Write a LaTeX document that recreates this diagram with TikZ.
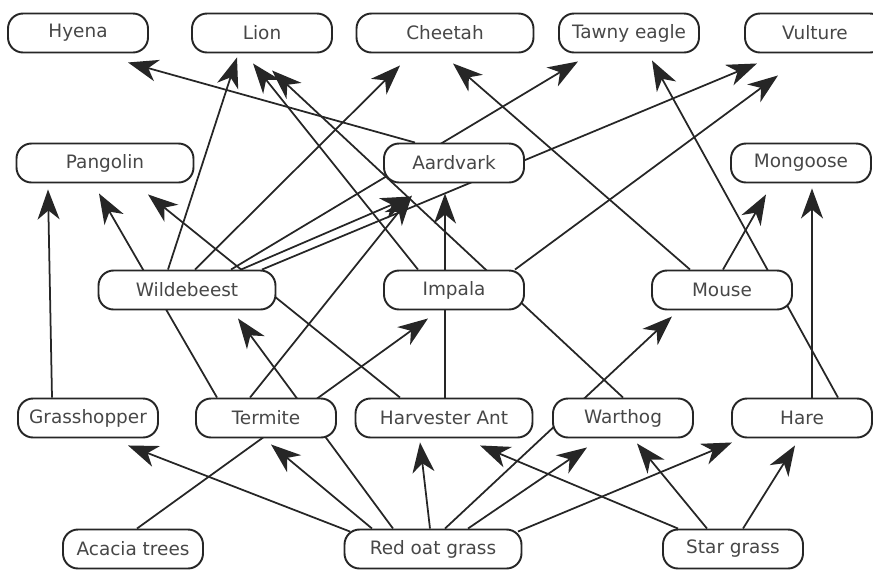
\documentclass[tikz,border=0pt]{standalone}
\usepackage{fontspec}
\setmainfont{DejaVu Sans}
\usetikzlibrary{arrows.meta,calc,backgrounds}

\begin{document}
\begin{tikzpicture}[x=0.02cm, y=-0.02cm,
        kasten/.style={draw=black!85, line width=1.1pt, fill=white, rounded corners=0.3cm,
            minimum height=0.78cm, minimum width=2.8cm, inner sep=0pt,
            text=black!72, font=\fontsize{10.5}{12}\selectfont},
        breit/.style={kasten, minimum width=3.54cm},
        pfeil/.style={line width=1pt, black!85, -{Stealth[length=6mm, width=4.4mm, inset=1.8mm]}}]
    % Bildgroesse
        \useasboundingbox (0,0) rectangle (873,569);

    % Raubtiere
        \node[kasten] (hyena) at (78,33) {Hyena};
        \node[kasten] (lion) at (262,33) {Lion};
        \node[breit] (cheetah) at (445,33) {Cheetah};
        \node[kasten] (tawny) at (629,33) {Tawny eagle};
        \node[kasten] (vulture) at (815,33) {Vulture};

    % 2. Ebene
        \node[breit] (pangolin) at (105,163) {Pangolin};
        \node[kasten] (aardvark) at (454,163) {Aardvark};
        \node[kasten] (mongoose) at (801,163) {Mongoose};

    % 3. Ebene
        \node[breit] (wildebeest) at (187,290) {Wildebeest};
        \node[kasten] (impala) at (454,290) {Impala};
        \node[kasten] (mouse) at (722,290) {Mouse};

    % 4. Ebene
        \node[kasten] (grasshopper) at (88,418) {Grasshopper};
        \node[kasten] (termite) at (266,418) {Termite};
        \node[breit] (harvester) at (444,418) {Harvester Ant};
        \node[kasten] (warthog) at (623,418) {Warthog};
        \node[kasten] (hare) at (802,418) {Hare};

    % Pflanzen
        \node[kasten] (acacia) at (133,549) {Acacia trees};
        \node[breit] (redoat) at (433,549) {Red oat grass};
        \node[kasten] (stargrass) at (733,549) {Star grass};

    % Verbindungen
    \begin{scope}[on background layer]
        \draw[pfeil] ($(aardvark.north)+(-39,0)$) -- ($(hyena.south)+(50,9)$);
        \draw[pfeil] ($(wildebeest.north)+(-19,0)$) -- ($(lion.south)+(-25,4)$);
        \draw[pfeil] ($(impala.north)+(-36,0)$) -- ($(lion.south)+(-9,10)$);
        \draw[pfeil] ($(warthog.north)+(0,0)$) -- ($(lion.south)+(10,17)$);
        \draw[pfeil] ($(wildebeest.north)+(8,0)$) -- ($(cheetah.south)+(-45,12)$);
        \draw[pfeil] ($(mouse.north)+(-32,0)$) -- ($(cheetah.south)+(8,10)$);
        \draw[pfeil] ($(wildebeest.north)+(44,0)$) -- ($(tawny.south)+(-51,8)$);
        \draw[pfeil] ($(hare.north)+(36,0)$) -- ($(tawny.south)+(23,7)$);
        \draw[pfeil] ($(wildebeest.north)+(75,0)$) -- ($(vulture.south)+(-58,10)$);
        \draw[pfeil] ($(impala.north)+(61,0)$) -- ($(vulture.south)+(-37,22)$);

        \draw[pfeil] ($(grasshopper.north)+(-36,0)$) -- ($(pangolin.south)+(-57,6)$);
        \draw[pfeil] ($(termite.north)+(-49,0)$) -- ($(pangolin.south)+(-6,10)$);
        \draw[pfeil] ($(harvester.north)+(-44,0)$) -- ($(pangolin.south)+(43,11)$);
        \draw[pfeil] ($(wildebeest.north)+(54,0)$) -- ($(aardvark.south)+(-43,13)$);
        \draw[pfeil] ($(termite.north)+(-16,0)$) -- ($(aardvark.south)+(-42,12)$);
        \draw[pfeil] ($(harvester.north)+(1,0)$) -- ($(aardvark.south)+(-9,10)$);
        \draw[pfeil] ($(mouse.north)+(1,0)$) -- ($(mongoose.south)+(-35,11)$);
        \draw[pfeil] ($(hare.north)+(10,0)$) -- ($(mongoose.south)+(11,5)$);

        \draw[pfeil] ($(redoat.north)+(-40,0)$) -- ($(wildebeest.south)+(51,8)$);
        \draw[pfeil] ($(acacia.north)+(4,0)$) -- ($(impala.south)+(-26,8)$);
        \draw[pfeil] ($(redoat.north)+(12,0)$) -- ($(mouse.south)+(-50,6)$);

        \draw[pfeil] ($(redoat.north)+(-83,3)$) -- ($(grasshopper.south)+(40,7)$);
        \draw[pfeil] ($(redoat.north)+(-61,0)$) -- ($(termite.south)+(5,6)$);
        \draw[pfeil] ($(redoat.north)+(-3,0)$) -- ($(harvester.south)+(-24,4)$);
        \draw[pfeil] ($(redoat.north)+(35,0)$) -- ($(warthog.south)+(-36,9)$);
        \draw[pfeil] ($(redoat.north)+(85,3)$) -- ($(hare.south)+(-70,4)$);
        \draw[pfeil] ($(stargrass.north)+(-55,0)$) -- ($(harvester.south)+(36,7)$);
        \draw[pfeil] ($(stargrass.north)+(-26,0)$) -- ($(warthog.south)+(14,5)$);
        \draw[pfeil] ($(stargrass.north)+(10,0)$) -- ($(hare.south)+(-7,7)$);
    \end{scope}
\end{tikzpicture}
\end{document}
